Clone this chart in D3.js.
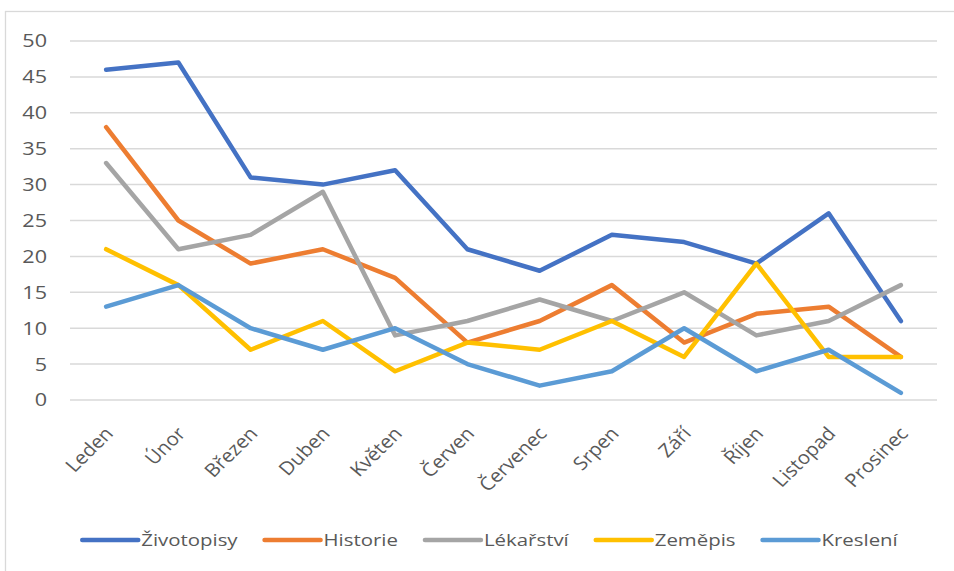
<!DOCTYPE html>
<html>
<head>
<meta charset="utf-8">
<script src="https://cdn.jsdelivr.net/npm/d3@7"></script>
<style>
  body { margin: 0; background: #fff; }
  text { font-family: "Open Sans", sans-serif; fill: #595959; }
</style>
</head>
<body>
<svg id="chart" width="954" height="571"></svg>
<script>
var months = ["Leden", "Únor", "Březen", "Duben", "Květen", "Červen", "Červenec", "Srpen", "Září", "Říjen", "Listopad", "Prosinec"];
var seriesNames = ["Životopisy", "Historie", "Lékařství", "Zeměpis", "Kreslení"];
var zivotopisy = [46, 47, 31, 30, 32, 21, 18, 23, 22, 19, 26, 11];
var historie = [38, 25, 19, 21, 17, 8, 11, 16, 8, 12, 13, 6];
var lekarstvi = [33, 21, 23, 29, 9, 11, 14, 11, 15, 9, 11, 16];
var zemepis = [21, 16, 7, 11, 4, 8, 7, 11, 6, 19, 6, 6];
var kresleni = [13, 16, 10, 7, 10, 5, 2, 4, 10, 4, 7, 1];
var yTicks = [0, 5, 10, 15, 20, 25, 30, 35, 40, 45, 50];

var colors = ["#4472C4", "#ED7D31", "#A5A5A5", "#FFC000", "#5B9BD5"];
var values = [zivotopisy, historie, lekarstvi, zemepis, kresleni];
var STRETCH = 1.2;

var svg = d3.select("#chart");

// chart frame (only left and top edges visible)
svg.append("rect")
  .attr("x", 5.5).attr("y", 11.5)
  .attr("width", 1000).attr("height", 1000)
  .attr("fill", "none")
  .attr("stroke", "#d9d9d9")
  .attr("stroke-width", 1.3);

var x = d3.scaleBand().domain(months).range([70, 937]);
var y = d3.scaleLinear().domain([0, 50]).range([400, 41]);

// gridlines
svg.append("g").selectAll("line").data(yTicks).enter()
  .append("line")
  .attr("x1", 70).attr("x2", 937)
  .attr("y1", function(d) { return y(d); })
  .attr("y2", function(d) { return y(d); })
  .attr("stroke", "#d9d9d9")
  .attr("stroke-width", 1.5);

// y labels
svg.append("g").selectAll("text").data(yTicks).enter()
  .append("text")
  .attr("transform", function(d) { return "translate(47," + y(d) + ") scale(" + STRETCH + ",1)"; })
  .attr("dy", "0.36em")
  .attr("text-anchor", "end")
  .style("font-size", "18px")
  .text(function(d) { return d; });

// x labels
svg.append("g").selectAll("text").data(months).enter()
  .append("text")
  .attr("transform", function(d) {
    return "translate(" + (x(d) + x.bandwidth() / 2 + 3) + ",430) scale(1.1,1) rotate(-47)";
  })
  .attr("dy", "0.35em")
  .attr("text-anchor", "end")
  .style("font-size", "18.5px")
  .text(function(d) { return d; });

// lines
var line = d3.line()
  .x(function(d, i) { return x(months[i]) + x.bandwidth() / 2; })
  .y(function(d) { return y(d); });

svg.append("g").selectAll("path").data(values).enter()
  .append("path")
  .attr("d", line)
  .attr("fill", "none")
  .attr("stroke", function(d, i) { return colors[i]; })
  .attr("stroke-width", 4.5)
  .attr("stroke-linejoin", "round")
  .attr("stroke-linecap", "round");

// legend
var legend = svg.append("g");
var items = legend.selectAll("g").data(seriesNames).enter().append("g");
items.append("line")
  .attr("x1", 0).attr("x2", 56)
  .attr("y1", 540).attr("y2", 540)
  .attr("stroke", function(d, i) { return colors[i]; })
  .attr("stroke-width", 4.5)
  .attr("stroke-linecap", "round");
items.append("text")
  .attr("transform", "translate(59,540) scale(" + STRETCH + ",1)")
  .attr("dy", "0.36em")
  .style("font-size", "17px")
  .text(function(d) { return d; });

var offset = 0, widths = [];
items.each(function() {
  var w = 59 + d3.select(this).select("text").node().getComputedTextLength() * STRETCH;
  widths.push(w);
});
var total = d3.sum(widths) + 27 * (widths.length - 1);
offset = 80 + (820 - total) / 2;
items.attr("transform", function(d, i) {
  var t = "translate(" + offset + ",0)";
  offset += widths[i] + 27;
  return t;
});
</script>
</body>
</html>
